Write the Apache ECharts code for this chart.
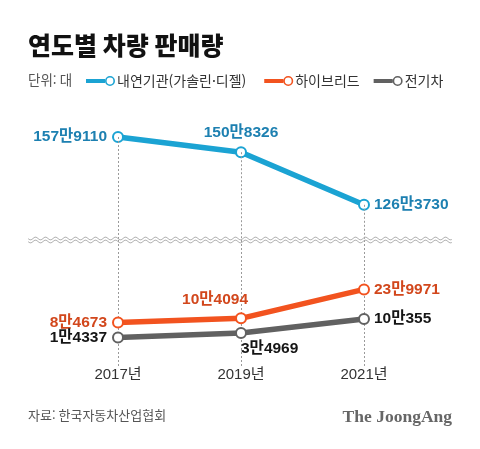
<!DOCTYPE html>
<html lang="ko">
<head>
<meta charset="UTF-8">
<title>연도별 차량 판매량</title>
<script src="https://cdn.jsdelivr.net/npm/echarts@6/dist/echarts.min.js"></script>
<style>
  * { margin: 0; }
  html, body { height: 100%; background: #fff; }
  #chart { width: 480px; height: 449px; }
</style>
</head>
<body>
<div id="chart"></div>
<script>
  // 데이터 (단위: 대)
  const years = ['2017년', '2019년', '2021년'];
  const iceSales = [1579110, 1508326, 1263730];   // 내연기관(가솔린·디젤)
  const hybridSales = [84673, 104094, 239971];    // 하이브리드
  const evSales = [14337, 34969, 100355];         // 전기차

  const topMin = 1100000, topMax = 1600000;
  const botMin = -120000, botMax = 472000;

  const FONT = "'Liberation Sans', 'Noto Sans CJK KR', sans-serif";
  const KR = "'Noto Sans CJK KR', sans-serif";
  const BLUE = '#1ba3d3', ORANGE = '#f2531f', GRAY = '#616161';

  const fmt = v => Math.floor(v / 10000) + '만' + (v % 10000);

  function makeData(values, labels) {
    return values.map((v, i) => ({ value: v, label: labels[i] }));
  }

  function lineSeries(name, color, labelColor, values, labels, axis) {
    return {
      name: name,
      type: 'line',
      xAxisIndex: axis, yAxisIndex: axis,
      symbol: 'emptyCircle',
      symbolSize: 10,
      itemStyle: { color: color, borderWidth: 1.5 },
      lineStyle: { color: color, width: 5.5 },
      label: {
        show: true, formatter: p => fmt(p.value),
        color: labelColor, fontFamily: FONT, fontWeight: 'bold', fontSize: 15.5
      },
      emphasis: { disabled: true },
      data: makeData(values, labels)
    };
  }

  // 물결선 (축 생략 표시)
  function wave(y0) {
    const pts = [];
    for (let x = 28; x <= 452; x += 1) pts.push([x, y0 + 1.4 * Math.sin(2 * Math.PI * (x - 28) / 10)]);
    return { type: 'polyline', shape: { points: pts, smooth: 0.3 }, style: { stroke: '#a8a8a8', lineWidth: 0.9, fill: null }, z: 10, silent: true };
  }

  const chart = echarts.init(document.getElementById('chart'));
  chart.setOption({
    animation: false,
    title: [
      { text: '연도별 차량 판매량', left: 28, top: 33, padding: 0, textStyle: { fontFamily: KR, fontSize: 25, fontWeight: 900, color: '#111' } },
      { text: '단위: 대', left: 28, top: 73, padding: 0, textStyle: { fontFamily: KR, fontSize: 13.5, fontWeight: 'normal', color: '#555' } },
      { text: '자료: 한국자동차산업협회', left: 28, top: 409, padding: 0, textStyle: { fontFamily: KR, fontSize: 13, fontWeight: 'normal', color: '#555' } },
      { text: 'The JoongAng', right: 28, top: 408, padding: 0, textStyle: { fontFamily: "'Liberation Serif', 'DejaVu Serif', serif", fontSize: 17.5, fontWeight: 'bold', color: '#666' } }
    ],
    legend: {
      left: 86, top: 74, padding: 0,
      itemWidth: 29, itemHeight: 10, itemGap: 14,
      icon: 'path://M0,4 L19,4 L19,8 L0,8 Z M19,6 A5,5 0 1,1 29,6 A5,5 0 1,1 19,6 Z M20.6,6 A3.4,3.4 0 1,0 27.4,6 A3.4,3.4 0 1,0 20.6,6 Z',
      itemStyle: { borderWidth: 0 },
      textStyle: { fontFamily: KR, fontSize: 14, color: '#333', padding: [0, 0, 0, -3] },
      data: ['내연기관(가솔린·디젤)', '하이브리드', '전기차']
    },
    grid: [
      { left: 118, right: 116, top: 132.5, height: 107.5 },
      { left: 118, right: 116, top: 240, height: 126 }
    ],
    xAxis: [
      { type: 'category', gridIndex: 0, data: years, boundaryGap: false,
        axisLine: { show: false }, axisTick: { show: false }, axisLabel: { show: false }, splitLine: { show: false } },
      { type: 'category', gridIndex: 1, data: years, boundaryGap: false,
        axisLine: { show: false }, axisTick: { show: false },
        axisLabel: { margin: 1, fontFamily: FONT, fontSize: 15, color: '#333' },
        splitLine: { show: true, lineStyle: { color: '#9a9a9a', width: 1, type: [2, 2] } } }
    ],
    yAxis: [
      { type: 'value', gridIndex: 0, min: topMin, max: topMax, show: false },
      { type: 'value', gridIndex: 1, min: botMin, max: botMax, show: false }
    ],
    series: [
      Object.assign(lineSeries('내연기관(가솔린·디젤)', BLUE, '#1d80b1', iceSales, [
        { position: 'left', distance: 5 },
        { position: 'top', distance: 6 },
        { position: 'right', distance: 4 }
      ], 0), {
        markLine: {
          silent: true, symbol: ['none', 'none'], label: { show: false },
          lineStyle: { color: '#9a9a9a', width: 1, type: [2, 2] },
          data: iceSales.map((v, i) => [{ coord: [i, v] }, { coord: [i, topMin] }])
        }
      }),
      lineSeries('하이브리드', ORANGE, '#d2471c', hybridSales, [
        { position: 'left', distance: 5 },
        { position: 'top', align: 'right', offset: [7, 0], distance: 5 },
        { position: 'right', distance: 4 }
      ], 1),
      lineSeries('전기차', GRAY, '#151515', evSales, [
        { position: 'left', distance: 5 },
        { position: 'bottom', align: 'left', distance: 2 },
        { position: 'right', distance: 4 }
      ], 1)
    ],
    graphic: [wave(238.5), wave(241.5)]
  });
</script>
</body>
</html>
